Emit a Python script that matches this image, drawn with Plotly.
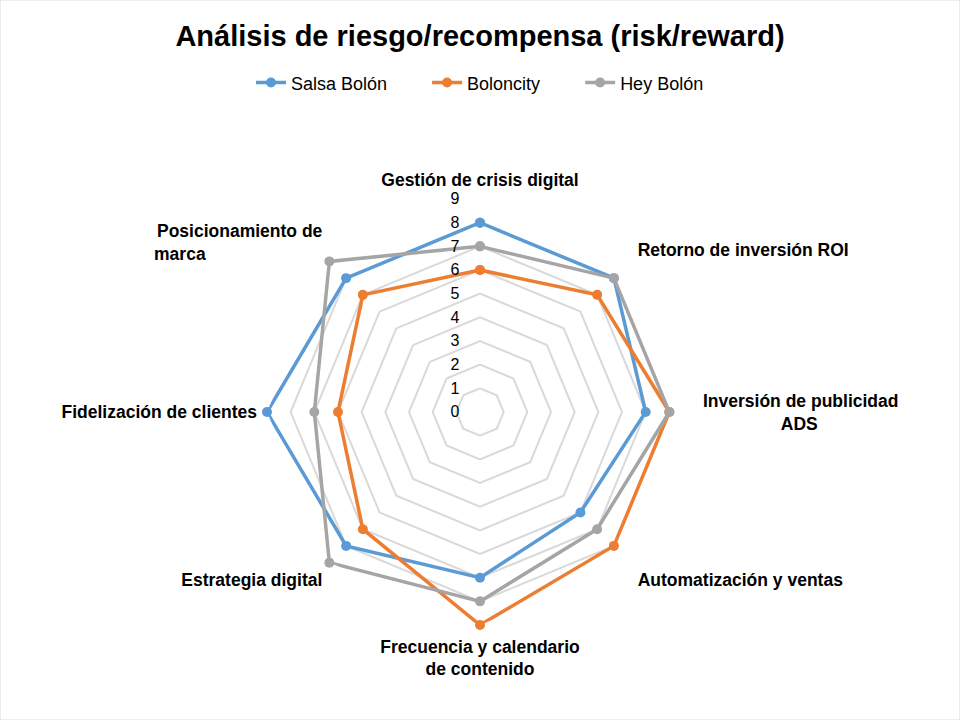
import plotly.graph_objects as go

NB = "\u00a0"
categorias = [
    "Gestión de crisis digital",
    "Retorno de inversión ROI",
    "Inversión de publicidad<br>" + NB * 16 + "ADS",
    "Automatización y ventas",
    "Frecuencia y calendario<br>de contenido",
    "Estrategia digital",
    "Fidelización de clientes",
    "Posicionamiento de<br>marca" + NB * 24,
]
salsa_bolon = [8, 8, 7, 6, 7, 8, 9, 8]
boloncity = [6, 7, 8, 8, 9, 7, 6, 7]
hey_bolon = [7, 8, 8, 7, 8, 9, 7, 9]

series = [
    ("Salsa Bolón" + NB * 7, salsa_bolon, "#5B9BD5"),
    ("Boloncity" + NB * 7, boloncity, "#ED7D31"),
    ("Hey Bolón", hey_bolon, "#A5A5A5"),
]

fig = go.Figure()
for nombre, valores, color in series:
    fig.add_trace(go.Scatterpolar(
        r=valores + valores[:1],
        theta=categorias + categorias[:1],
        name=nombre,
        mode="lines+markers",
        line=dict(color=color, width=3.5),
        marker=dict(color=color, size=10),
    ))

fig.update_layout(
    width=960, height=720,
    margin=dict(l=0, r=0, t=0, b=0),
    paper_bgcolor="white",
    font=dict(family="Liberation Sans, Arial", color="black"),
    title=dict(text="<b>Análisis de riesgo/recompensa (risk/reward)</b>",
               x=0.5, xanchor="center", y=0.95, yanchor="middle",
               font=dict(size=29)),
    legend=dict(orientation="h", x=0.5, xanchor="center", y=0.885, yanchor="middle",
                font=dict(size=18)),
    polar=dict(
        domain=dict(x=[0.2781, 0.7219], y=[0.1319, 0.7236]),
        gridshape="linear",
        bgcolor="white",
        angularaxis=dict(direction="clockwise", rotation=90, showgrid=False,
                         showline=False, ticks="outside", ticklen=6,
                         tickcolor="rgba(0,0,0,0)",
                         tickvals=categorias,
                         ticktext=["<b>" + c + "</b>" for c in categorias],
                         tickfont=dict(size=17.5, family="Liberation Sans, Arial")),
        radialaxis=dict(range=[0, 9], dtick=1, angle=90, side="counterclockwise",
                        tickangle=90, showline=False, ticks="",
                        ticksuffix=NB * 4,
                        gridcolor="#D9D9D9", gridwidth=1.5,
                        tickfont=dict(size=16, family="Liberation Sans, Arial")),
    ),
    shapes=[dict(type="rect", xref="paper", yref="paper", x0=0, y0=0, x1=1, y1=1,
                 line=dict(color="#D9D9D9", width=1))],
)

fig.write_html("out.html", config={"displayModeBar": False},
               post_script="document.body.style.margin='0';")
